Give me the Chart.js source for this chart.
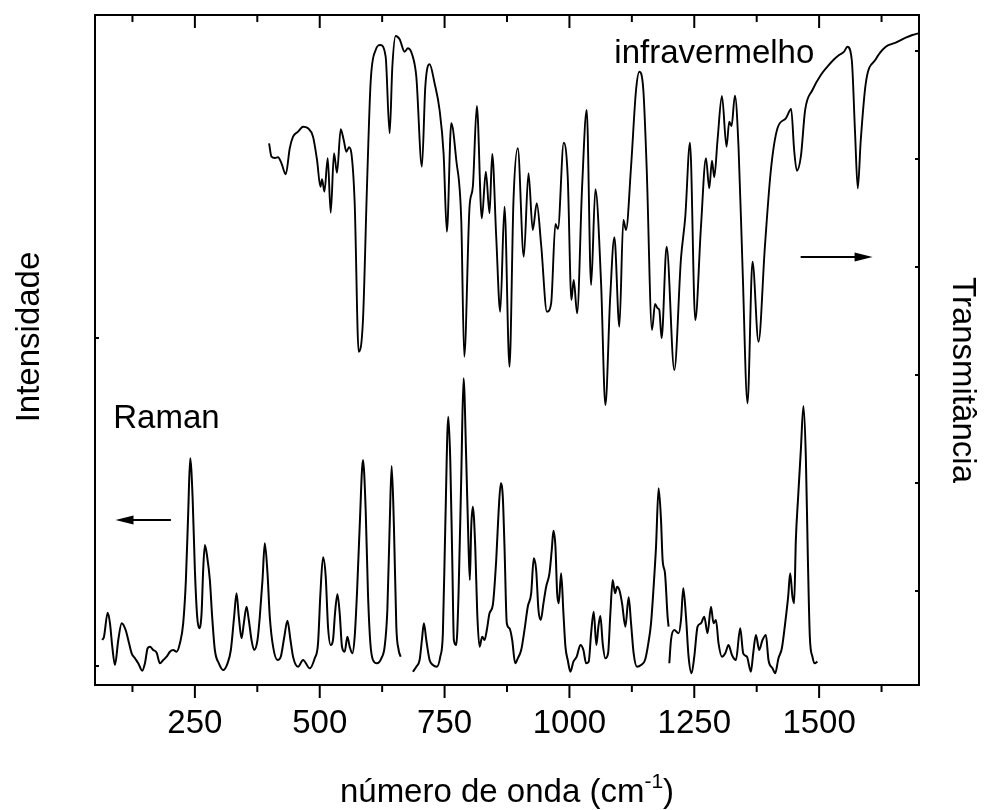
<!DOCTYPE html>
<html>
<head>
<meta charset="utf-8">
<script src="https://cdn.jsdelivr.net/npm/chart.js@4.4.1/dist/chart.umd.min.js"></script>
<style>
  html, body { margin: 0; padding: 0; background: #fff; }
  canvas { display: block; }
</style>
</head>
<body>
<canvas id="c" width="987" height="810"></canvas>
<script>
// ---------- data (wavenumber in cm-1, intensities in arbitrary units) ----------
const irWavenumber = [398.6,403.4,410,416.6,423.4,432,440,446.6,456.6,466.6,
  476.6,486.6,494.6,501.4,504.6,509.4,516,522,528.6,534.6,
  542,548,553.4,558.6,563.4,570,578,586.6,594.6,602,
  612,621.4,632,640,645.4,652,660,670,676.6,685.4,
  693.4,704.6,711.4,720,730,740,748,754.6,763.4,773.4,
  783.4,789.4,800,806.6,814.6,824.6,832.6,840,845.4,853.4,
  861.4,870,880,888,896.6,908.6,918,926.6,934.6,943.4,
  955,963.4,972,977,988.6,996.6,1004,1008.6,1015.4,1025.4,
  1034.6,1043.4,1052,1063.4,1072,1081.4,1090,1100,1108,1113.4,
  1123.4,1133.4,1140,1148,1154.6,1165.4,1171.4,1176.6,1180,1184.6,
  1194.6,1210,1223.4,1232,1241.4,1252,1263.4,1273.4,1280,1285.4,
  1290,1296.6,1305.4,1314.6,1320,1324.6,1331.4,1338.6,1346.6,1356.6,
  1366.6,1378.6,1391.4,1403.4,1416.6,1433.4,1444,1450,1455.4,1463.4,
  1472,1486.6,1503.4,1516.6,1530,1540,1550,1556.6,1565.4,1572,
  1577.4,1583.4,1593.4,1613.4,1633.4,1653.4,1673.4,1686.6,1698.6];
const irTransmittance = [541.7,528.3,527,527.7,521.7,510.7,536.7,548.3,553.3,558.3,
  556.7,548.3,525,498.3,505.7,493.3,526.7,472.3,531.7,512.3,
  555.7,545,533.3,537.7,531.7,481.7,333.3,365,498.3,603.3,
  635,640,628.3,551.7,618.3,649,645.7,633.3,636.7,630,
  608.3,518.3,598.3,620.7,601.7,575,531.7,453.3,561.7,525,
  465,328.3,478.3,498.3,579,466.7,513.3,471.7,531,448.3,
  373.3,478.3,318.3,485,536.7,428.3,511.7,455,481.7,440,
  373.3,381.7,461,456,542.3,508.3,385,405,371.7,498.3,
  575,400,495.7,401.7,280,385,447.7,358.3,465,455,
  518.3,595,613.3,595,518.3,355,381,376.7,375,346.7,
  438.3,315,426.7,468.3,542.3,365,458.3,526.7,496.7,524.3,
  507.7,545,589,538.3,563.3,559,589.3,538.3,418.3,281.7,
  423.3,343.3,438.3,515,556.7,566.7,576,535,514.3,528.3,
  575,595,610,618.3,625.7,630,633.3,638.3,625,551.7,
  496.7,545,601.7,625.7,638.3,642.3,647.3,650,651.7];

// Raman spectrum, recorded in three pieces
const ramanX1 = [64.6,68,75.4,80,84.6,90,96.6,103.4,111.4,116.6,
  123.4,130,136.6,144.6,150,155.4,160,166.6,173.4,180,
  186.6,193.4,200,206.6,213.4,220,226.6,232,236.6,240.6,
  245.4,250,254.6,258.6,263.4,266.6,270,274.6,280,284.6,
  290,298,306.6,315.4,322,328.6,333.4,338,343.4,348,
  353.4,358,363.4,368.6,375.4,380,385.4,390,395.4,400,
  406.6,415.4,422,428.6,435.4,441.4,446.6,456.6,466.6,480,
  490,496.6,501.4,506.6,512,516.6,522,526.6,530.6,535.4,
  540,544.6,550,555.4,560,565.4,570,574.6,580,586.6,
  592,596.6,601.4,606.6,614.6,623.4,630,635.4,640,644,
  648.6,653.4,658,662];
const ramanY1 = [45,48.3,72.3,61.7,38.3,20,45,61.7,55,45,
  31.7,26.7,21.7,14.3,21.7,36.7,38.3,35,32.3,21.7,
  25,28.3,33.3,35,33.3,41.7,61.7,105,171.7,226.7,
  188.3,115,68.3,56.7,71.7,115,140,128.3,105,68.3,
  35,21.7,15,21.7,35,68.3,91.7,68.3,46.7,61.7,
  78.3,65,45,35,45,68.3,105,141.7,111.7,68.3,
  38.3,25,28.3,46.7,64.3,45,28.3,18.3,25,16.7,
  26.7,41.7,91.7,127.7,108.3,58.3,40,45,71.7,90.7,
  71.7,38.3,33.3,48.3,38.3,31.7,48.3,91.7,158.3,225,
  175,91.7,41.7,25,21.7,26.7,38.3,75,158.3,219,
  158.3,58.3,35,28.3];
const ramanX2 = [686.6,693.4,700,704.6,708.6,713.4,720,726.6,734.6,741.4,
  746.6,751.4,757.4,761.4,765.4,768.6,773.4,778,783.4,788,
  793.4,798,800.6,803.4,806.6,811.4,815.4,820,825.4,830,
  834.6,840,846.6,853.4,858,862.6,866.6,870,874.6,880,
  885.4,891.4,896.6,903.4,910,916.6,923.4,928.6,933.4,938,
  942.6,948,953.4,960,964.6,968,972,975.4,978.6,983.4,
  988,992,996.6,1002,1008,1014.6,1022,1028,1033.4,1038.6,
  1043.4,1048.6,1054,1058,1062,1066.6,1072,1077.4,1082,1086.6,
  1091.4,1095.4,1100,1105.4,1112,1118.6,1123.4,1128.6,1135.4,1143.4,
  1151.4,1158,1163.4,1168.6,1173.4,1178.6,1183.4,1186.6,1191.4,1196.6,
  1198.6];
const ramanY2 = [13.3,18.3,25,45,61.7,45,25,20,18.3,28.3,
  51.7,158.3,268.3,225,125,45,40,91.7,208.3,306.7,
  225,138.3,105,158.3,178.3,138.3,71.7,38.3,48.3,45,
  55,71.7,80,125,171.7,201.7,188,138.3,61.7,56.7,
  45,21.7,26.7,35,55,78.3,91.7,126.7,115,75,
  65,81.7,98.3,111.7,135,154.3,138.3,91.7,81.7,111.7,
  71.7,38.3,25,13.3,23.3,28.3,40,35,21.7,23.3,
  51.7,73.3,40,58.3,69,41.7,26.7,31.7,71.7,105,
  91.7,98.3,95,81.7,58.3,87.7,61.7,31.7,18.3,20,
  25,41.7,61.7,98.3,138.3,196.7,165,125,111.7,68.3,
  58.3];
const ramanX3 = [1200,1203.4,1210,1218.6,1223.4,1228,1233.4,1238.6,1244.6,1250,
  1256.6,1263.4,1270,1276.6,1283.4,1288.6,1293.4,1298.6,1305.4,1312,
  1318.6,1325.4,1333.4,1342,1348,1355.4,1363.4,1368,1373.4,1380,
  1386.6,1393.4,1398.6,1406.6,1412,1418.6,1425.4,1432,1438,1442,
  1446.6,1450,1453.4,1458,1463.4,1468.6,1473.4,1477.4,1481.4,1486.6,
  1491.4,1496.6];
const ramanY3 = [21.7,45,55,51.7,65,96.7,68.3,28.3,11.7,28.3,
  58.3,61.7,68.3,51.7,78.3,61.7,65,41.7,28.3,31.7,
  40,30,25,56.7,31.7,28.3,13.3,31.7,50,35,
  45,50,25,16.7,11.7,26.7,36.7,61.7,88.3,111.7,
  88.3,81.7,145,188.3,235,279,228.3,128.3,48.3,28.3,
  21.7,23.3];

// axis ticks
const xTickLabels = [250, 500, 750, 1000, 1250, 1500];
const xMinorTicks = [125, 375, 625, 875, 1125, 1375, 1625];
const leftTicks = [19, 347];
const rightTicks = [94, 202, 310, 418, 526, 634];

// texts
const xTitle = 'número de onda (cm';
const xTitleSup = '-1';
const yLeftTitle = 'Intensidade';
const yRightTitle = 'Transmitância';
const ramanLabel = 'Raman';
const irLabel = 'infravermelho';

// ---------- build ----------
const FONT = '"Liberation Sans", Arial, Helvetica, sans-serif';
const pts = (xs, ys) => xs.map((x, i) => ({ x: x, y: ys[i] }));
const ramanData = [].concat(
  pts(ramanX1, ramanY1), [{ x: 674, y: null }],
  pts(ramanX2, ramanY2), [{ x: 1199.3, y: null }],
  pts(ramanX3, ramanY3));
const irData = pts(irWavenumber, irTransmittance);

function line(ctx, x1, y1, x2, y2) {
  ctx.beginPath(); ctx.moveTo(x1, y1); ctx.lineTo(x2, y2); ctx.stroke();
}
function arrow(ctx, x1, y, x2) {
  const dir = Math.sign(x2 - x1);
  ctx.lineWidth = 1.8;
  line(ctx, x1, y, x2 - dir * 10, y);
  ctx.beginPath();
  ctx.moveTo(x2, y);
  ctx.lineTo(x2 - dir * 18, y - 4.5);
  ctx.lineTo(x2 - dir * 18, y + 4.5);
  ctx.closePath();
  ctx.fill();
}

const decor = {
  id: 'decor',
  afterDraw(chart) {
    const ctx = chart.ctx;
    const a = chart.chartArea;
    const xs = chart.scales.x, yl = chart.scales.y, yr = chart.scales.y2;
    ctx.save();
    ctx.strokeStyle = '#000';
    ctx.fillStyle = '#000';
    ctx.lineWidth = 2;
    xTickLabels.forEach(v => {
      const p = xs.getPixelForValue(v);
      line(ctx, p, a.bottom, p, a.bottom + 13);
      line(ctx, p, a.top, p, a.top + 13);
    });
    xMinorTicks.forEach(v => {
      const p = xs.getPixelForValue(v);
      line(ctx, p, a.bottom, p, a.bottom + 7);
      line(ctx, p, a.top, p, a.top + 7);
    });
    leftTicks.forEach(v => {
      const p = yl.getPixelForValue(v);
      line(ctx, a.left, p, a.left + 4, p);
    });
    rightTicks.forEach(v => {
      const p = yr.getPixelForValue(v);
      line(ctx, a.right - 4, p, a.right, p);
    });

    arrow(ctx, xs.getPixelForValue(202), yl.getPixelForValue(165), xs.getPixelForValue(91));
    arrow(ctx, xs.getPixelForValue(1463), yr.getPixelForValue(428), xs.getPixelForValue(1607));

    ctx.font = '33px ' + FONT;
    ctx.textBaseline = 'alphabetic';
    ctx.textAlign = 'left';
    ctx.fillText(ramanLabel, xs.getPixelForValue(86.6), yl.getPixelForValue(257));
    ctx.fillText(irLabel, xs.getPixelForValue(1090), yr.getPixelForValue(622));

    ctx.textBaseline = 'middle';
    ctx.textAlign = 'center';
    ctx.save();
    ctx.translate(30, 337);
    ctx.rotate(-Math.PI / 2);
    ctx.fillText(yLeftTitle, 0, 0);
    ctx.restore();
    ctx.save();
    ctx.translate(962, 380);
    ctx.rotate(Math.PI / 2);
    ctx.fillText(yRightTitle, 0, 0);
    ctx.restore();

    const big = '33px ' + FONT, small = '21px ' + FONT;
    ctx.textAlign = 'left';
    ctx.textBaseline = 'alphabetic';
    ctx.font = big; const w1 = ctx.measureText(xTitle).width; const w3 = ctx.measureText(')').width;
    ctx.font = small; const w2 = ctx.measureText(xTitleSup).width;
    const total = w1 + w2 + w3;
    const x0 = (a.left + a.right) / 2 - total / 2;
    const base = 802;
    ctx.font = big; ctx.fillText(xTitle, x0, base);
    ctx.font = small; ctx.fillText(xTitleSup, x0 + w1, base - 14);
    ctx.font = big; ctx.fillText(')', x0 + w1 + w2, base);
    ctx.restore();
  }
};

const border = { display: true, color: '#000', width: 2 };
new Chart(document.getElementById('c'), {
  type: 'scatter',
  data: {
    datasets: [
      {
        label: 'Raman', data: ramanData, yAxisID: 'y', xAxisID: 'x',
        showLine: true, spanGaps: false, borderColor: '#000', borderWidth: 2,
        pointRadius: 0, cubicInterpolationMode: 'monotone'
      },
      {
        label: 'infravermelho', data: irData, yAxisID: 'y2', xAxisID: 'x',
        showLine: true, borderColor: '#000', borderWidth: 1.9,
        pointRadius: 0, cubicInterpolationMode: 'monotone'
      }
    ]
  },
  options: {
    responsive: false, animation: false,
    layout: { padding: 0 },
    plugins: { legend: { display: false }, tooltip: { enabled: false } },
    scales: {
      x: {
        type: 'linear', position: 'bottom', min: 50, max: 1700,
        afterBuildTicks: s => { s.ticks = xTickLabels.map(v => ({ value: v })); },
        afterFit: s => { s.height = 125; },
        grid: { display: false, drawTicks: false },
        border: border,
        ticks: {
          font: { family: FONT, size: 33 }, color: '#000', padding: 19,
          maxRotation: 0, autoSkip: false, callback: v => String(v)
        }
      },
      xTop: {
        type: 'linear', position: 'top', min: 50, max: 1700,
        afterFit: s => { s.height = 15; },
        grid: { display: false, drawTicks: false },
        border: border, ticks: { display: false }
      },
      y: {
        type: 'linear', position: 'left', min: 0, max: 670,
        afterFit: s => { s.width = 95; },
        grid: { display: false, drawTicks: false },
        border: border, ticks: { display: false }
      },
      y2: {
        type: 'linear', position: 'right', min: 0, max: 670,
        afterFit: s => { s.width = 68; },
        grid: { display: false, drawTicks: false },
        border: border, ticks: { display: false }
      }
    }
  },
  plugins: [decor]
});
</script>
</body>
</html>
